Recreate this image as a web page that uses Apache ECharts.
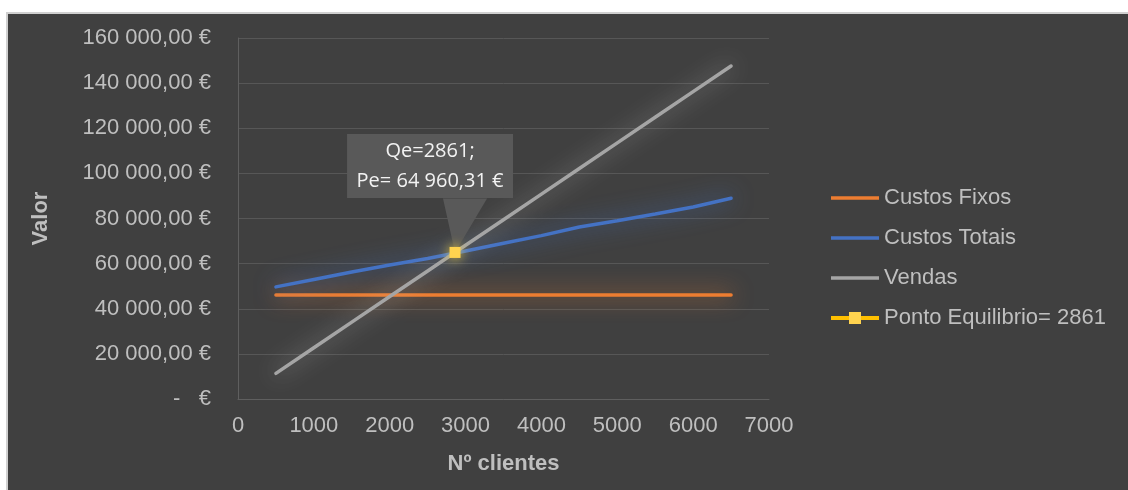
<!DOCTYPE html>
<html>
<head>
<meta charset="utf-8">
<script src="https://cdn.jsdelivr.net/npm/echarts@6/dist/echarts.min.js"></script>
<style>
  html, body { margin: 0; padding: 0; background: #ffffff; }
  #bg { position: absolute; left: 6px; top: 12px; width: 1122px; height: 478px; background: #404040; border-left: 2px solid #d0d0d0; border-top: 2px solid #d0d0d0; box-sizing: border-box; }
  #chart { position: absolute; left: 0; top: 0; width: 1128px; height: 490px; }
</style>
</head>
<body>
<div id="bg"></div>
<div id="chart"></div>
<script>
// Data
const clientes = [500, 1000, 1500, 2000, 2500, 3000, 3500, 4000, 4500, 5000, 5500, 6000, 6500];
const custosFixos = [46100, 46100, 46100, 46100, 46100, 46100, 46100, 46100, 46100, 46100, 46100, 46100, 46100];
const custosTotais = [49700, 53000, 56300, 59400, 62300, 65600, 69000, 72400, 76200, 79000, 82000, 85100, 89000];
const vendas = [11350, 22700, 34060, 45410, 56760, 68120, 79470, 90820, 102170, 113530, 124880, 136230, 147580];
const pontoEquilibrio = [[2861, 64960.31]];
const seriesNames = ['Custos Fixos', 'Custos Totais', 'Vendas', 'Ponto Equilibrio= 2861'];
const calloutLines = ['Qe=2861;', 'Pe= 64 960,31 €'];
const xTicks = { min: 0, max: 7000, interval: 1000 };
const yTicks = { min: 0, max: 160000, interval: 20000 };

function pair(xs, ys) { return xs.map((x, i) => [x, ys[i]]); }
function fmtEuro(v) {
  if (v === 0) return '-   €';
  const s = Math.round(v).toString().replace(/\B(?=(\d{3})+(?!\d))/g, ' ');
  return s + ',00 €';
}

const chart = echarts.init(document.getElementById('chart'), null, { renderer: 'canvas' });
const textColor = '#bfbfbf';
const baseFont = 'Liberation Sans, Arial, sans-serif';
const lineIcon = 'path://M0,0 L48,0 L48,3.5 L0,3.5 Z';

chart.setOption({
  backgroundColor: 'transparent',
  animation: false,
  textStyle: { fontFamily: baseFont },
  grid: { left: 238, right: 359, top: 38, bottom: 91, containLabel: false },
  legend: {
    orient: 'vertical',
    left: 824,
    top: 182,
    itemWidth: 48,
    itemHeight: 15,
    itemGap: 18,
    textStyle: { color: textColor, fontSize: 22, fontFamily: baseFont },
    data: [
      { name: seriesNames[0], icon: lineIcon },
      { name: seriesNames[1], icon: lineIcon },
      { name: seriesNames[2], icon: lineIcon },
      { name: seriesNames[3], lineStyle: { width: 4, color: '#FFC000' } }
    ]
  },
  xAxis: {
    type: 'value',
    min: xTicks.min, max: xTicks.max, interval: xTicks.interval,
    name: 'Nº clientes',
    nameLocation: 'middle',
    nameGap: 54,
    nameTextStyle: { color: textColor, fontSize: 22, fontWeight: 'bold', fontFamily: baseFont },
    axisLine: { show: true, lineStyle: { color: '#5f5f5f', width: 1 } },
    axisTick: { show: false },
    axisLabel: { color: textColor, fontSize: 22, margin: 16, fontFamily: baseFont, formatter: v => String(v) },
    splitLine: { show: false }
  },
  yAxis: {
    type: 'value',
    min: yTicks.min, max: yTicks.max, interval: yTicks.interval,
    name: 'Valor',
    nameLocation: 'middle',
    nameGap: 186,
    nameRotate: 90,
    nameTextStyle: { color: textColor, fontSize: 22, fontWeight: 'bold', fontFamily: baseFont },
    axisLine: { show: true, lineStyle: { color: '#5f5f5f', width: 1 } },
    axisTick: { show: false },
    axisLabel: { color: textColor, fontSize: 22, margin: 27, fontFamily: baseFont, formatter: fmtEuro },
    splitLine: { show: true, lineStyle: { color: '#575757', width: 1 } }
  },
  series: [
    {
      name: seriesNames[0], type: 'line', data: pair(clientes, custosFixos),
      symbol: 'none', color: '#ED7D31',
      lineStyle: { width: 3.5, color: '#ED7D31', shadowBlur: 22, shadowColor: 'rgba(237,125,49,1)', cap: 'round' }
    },
    {
      name: seriesNames[1], type: 'line', data: pair(clientes, custosTotais),
      symbol: 'none', color: '#4472C4',
      lineStyle: { width: 3.5, color: '#4472C4', shadowBlur: 22, shadowColor: 'rgba(68,114,196,1)', cap: 'round' }
    },
    {
      name: seriesNames[2], type: 'line', data: pair(clientes, vendas),
      symbol: 'none', color: '#A5A5A5',
      lineStyle: { width: 3.5, color: '#A5A5A5', shadowBlur: 22, shadowColor: 'rgba(200,200,200,0.7)', cap: 'round' }
    },
    {
      name: seriesNames[3], type: 'line', data: pontoEquilibrio,
      symbol: 'rect', symbolSize: 11, showSymbol: true, color: '#FFC000',
      z: 5,
      itemStyle: { color: '#FFD34F', borderWidth: 0, shadowBlur: 12, shadowColor: 'rgba(255,220,60,0.9)' },
      lineStyle: { width: 4, color: '#FFC000' },
      markPoint: {
        silent: true,
        z: 4,
        symbol: 'path://M0,0 L44,0 L12,52 Z',
        symbolKeepAspect: false,
        symbolSize: [44, 54],
        symbolOffset: [10, -27],
        itemStyle: { color: '#595959' },
        label: { show: false },
        data: [{ coord: pontoEquilibrio[0] }]
      },
      label: {
        show: true,
        position: 'top',
        distance: 49,
        offset: [-25, 0],
        formatter: () => calloutLines.join('\n'),
        color: '#f2f2f2',
        fontSize: 20,
        lineHeight: 30,
        fontFamily: 'Open Sans, Noto Sans, sans-serif',
        backgroundColor: '#595959',
        padding: [2, 8],
        width: 150,
        align: 'center'
      }
    }
  ]
});
</script>
</body>
</html>
